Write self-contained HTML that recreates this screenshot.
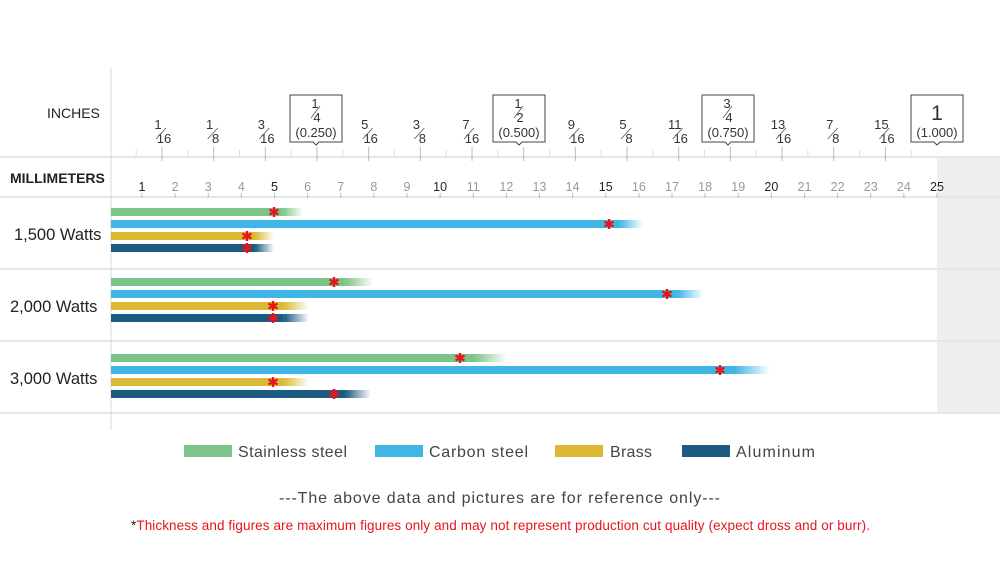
<!DOCTYPE html>
<html><head><meta charset="utf-8"><style>
body{margin:0;background:#fff;width:1000px;height:562px;overflow:hidden}
svg text{font-family:"Liberation Sans",sans-serif}
</style></head><body>
<svg width="1000" height="562" viewBox="0 0 1000 562" xmlns="http://www.w3.org/2000/svg">
<defs>
<linearGradient id="gS"><stop offset="0" stop-color="#7cc48c"/><stop offset="1" stop-color="#7cc48c" stop-opacity="0"/></linearGradient>
<linearGradient id="gC"><stop offset="0" stop-color="#3fb6e6"/><stop offset="1" stop-color="#3fb6e6" stop-opacity="0"/></linearGradient>
<linearGradient id="gB"><stop offset="0" stop-color="#dbb935"/><stop offset="1" stop-color="#dbb935" stop-opacity="0"/></linearGradient>
<linearGradient id="gA"><stop offset="0" stop-color="#1b5b80"/><stop offset="1" stop-color="#1b5b80" stop-opacity="0"/></linearGradient>
</defs>
<rect x="937" y="157" width="63" height="255" fill="#efefef"/>
<g stroke="#e6e6e6" stroke-width="2">
<line x1="0" y1="157" x2="1000" y2="157"/>
<line x1="0" y1="197" x2="1000" y2="197"/>
<line x1="0" y1="269" x2="1000" y2="269"/>
<line x1="0" y1="341" x2="1000" y2="341"/>
<line x1="0" y1="413" x2="1000" y2="413"/>
</g>
<line x1="111" y1="68" x2="111" y2="430" stroke="#d8d8d8"/>
<g font-size="14" fill="#222">
<text x="47" y="118">INCHES</text>
<text x="10" y="183" font-weight="bold">MILLIMETERS</text>
<text x="14" y="240" font-size="16.5">1,500 Watts</text>
<text x="10" y="312" font-size="16.5">2,000 Watts</text>
<text x="10" y="384" font-size="16.5">3,000 Watts</text>
</g>
<g id="inch" font-size="13" fill="#333" text-anchor="middle"></g>
<script>
(function(){
var g=document.getElementById('inch'),ns="http://www.w3.org/2000/svg";
function el(n,a,t){var e=document.createElementNS(ns,n);for(var k in a)e.setAttribute(k,a[k]);if(t!=null)e.textContent=t;g.appendChild(e);return e;}
var x0=162,d=51.67;
for(var i=-1;i<32;i++){var x=x0+i*d/2;if(x<112||x>937)continue;var major=i%2==0;
el('line',{x1:x,y1:major?147:150,x2:x,y2:major?161:157,stroke:major?'#bbb':'#ddd'});}
var fr=[["1","16"],["1","8"],["3","16"],null,["5","16"],["3","8"],["7","16"],null,["9","16"],["5","8"],["11","16"],null,["13","16"],["7","8"],["15","16"]];
for(var i=0;i<15;i++){var x=x0+i*d;if(i==6)x-=2;if(fr[i]){
el('text',{x:x-4,y:129},fr[i][0]);el('text',{x:x+2,y:143},fr[i][1]);
el('line',{x1:x-6,y1:139,x2:x+4,y2:128,stroke:'#555','stroke-width':0.8});}}
var boxes=[[316,"1","4","(0.250)"],[519,"1","2","(0.500)"],[728,"3","4","(0.750)"]];
boxes.forEach(function(b){var x=b[0];
el('path',{d:'M'+(x-26)+' 95 H'+(x+26)+' V142 H'+(x+3)+' L'+x+' 145 L'+(x-3)+' 142 H'+(x-26)+' Z',fill:'#fff',stroke:'#444'});
el('text',{x:x-1,y:108},b[1]);el('text',{x:x+1,y:122},b[2]);el('line',{x1:x-5,y1:118,x2:x+4,y2:106,stroke:'#555','stroke-width':0.8});
el('text',{x:x,y:137},b[3]);});
var x=937;el('path',{d:'M'+(x-26)+' 95 H'+(x+26)+' V142 H'+(x+3)+' L'+x+' 145 L'+(x-3)+' 142 H'+(x-26)+' Z',fill:'#fff',stroke:'#444'});
el('text',{x:x,y:120,'font-size':21},"1");el('text',{x:x,y:137},"(1.000)");
for(var m=1;m<=25;m++){var xm=142+(m-1)*33.125;var b=(m==1||m%5==0);
el('text',{x:xm,y:191,fill:b?'#222':'#999','font-size':12.5},String(m));
el('line',{x1:xm,y1:193,x2:xm,y2:198,stroke:'#bbb'});}
})();
</script>
<g id="bars"></g>
<script>
(function(){
var g=document.getElementById('bars'),ns="http://www.w3.org/2000/svg";
function el(n,a){var e=document.createElementNS(ns,n);for(var k in a)e.setAttribute(k,a[k]);g.appendChild(e);return e;}
var col={S:'#7cc48c',C:'#3fb6e6',B:'#dbb935',A:'#1b5b80'};
var rows=[[212,[['S',274,303],['C',609,643],['B',247,274],['A',247,274]]],
[282,[['S',334,373],['C',667,703],['B',273,309],['A',273,309]]],
[358,[['S',460,507],['C',720,770],['B',273,309],['A',334,371]]]];
rows.forEach(function(r){r[1].forEach(function(b,i){var y=r[0]+i*12-4;var s=b[1]+(b[2]-b[1])*0.3;
el('rect',{x:111,y:y,width:s-111,height:8,fill:col[b[0]]});
el('rect',{x:s,y:y,width:b[2]-s,height:8,fill:'url(#g'+b[0]+')'});
var cy=y+4;el('path',{d:'M'+b[1]+' '+(cy-5)+'V'+(cy+5)+'M'+(b[1]-4.5)+' '+(cy-2.5)+'L'+(b[1]+4.5)+' '+(cy+2.5)+'M'+(b[1]-4.5)+' '+(cy+2.5)+'L'+(b[1]+4.5)+' '+(cy-2.5),stroke:'#e8141b','stroke-width':2.4});
});});
})();
</script>
<g font-size="16" fill="#444">
<rect x="184" y="445" width="48" height="12" fill="#7cc48c"/><text x="238" y="457" textLength="109">Stainless steel</text>
<rect x="375" y="445" width="48" height="12" fill="#3fb6e6"/><text x="429" y="457" textLength="99">Carbon steel</text>
<rect x="555" y="445" width="48" height="12" fill="#dbb935"/><text x="610" y="457" textLength="42">Brass</text>
<rect x="682" y="445" width="48" height="12" fill="#1b5b80"/><text x="736" y="457" textLength="79">Aluminum</text>
<text x="279" y="503" font-size="16" textLength="441">---The above data and pictures are for reference only---</text>
</g>
<text x="131" y="530" font-size="13.5" fill="#e8141b" textLength="739"><tspan fill="#222">*</tspan>Thickness and figures are maximum figures only and may not represent production cut quality (expect dross and or burr).</text>
</svg>
</body></html>
